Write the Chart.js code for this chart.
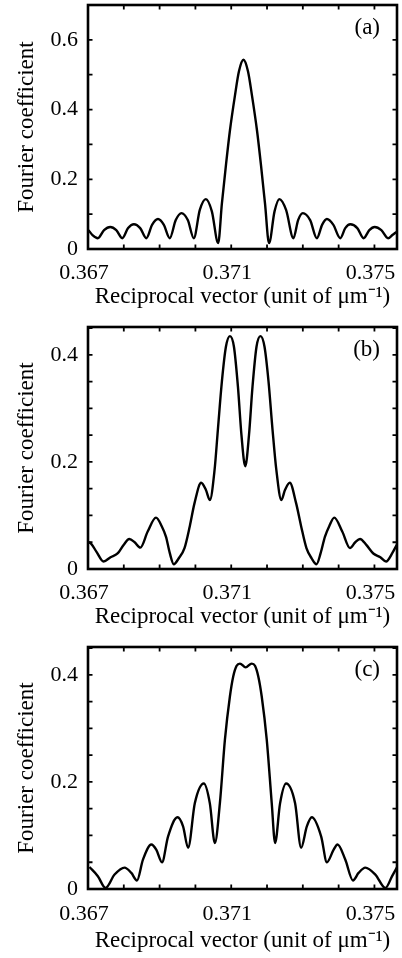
<!DOCTYPE html>
<html><head><meta charset="utf-8">
<script src="https://cdn.jsdelivr.net/npm/chart.js@4.4.1/dist/chart.umd.min.js"></script>
<style>html,body{margin:0;padding:0;background:#fff;}canvas{display:block;}</style>
</head><body>
<canvas id="ca" width="402" height="320"></canvas>
<canvas id="cb" width="402" height="320"></canvas>
<canvas id="cc" width="402" height="318"></canvas>
<script>
// ---------- data ----------
const xTickLabels = ['0.367', '0.371', '0.375'];
const yTickLabelsA = ['0', '0.2', '0.4', '0.6'];
const yTickLabelsBC = ['0', '0.2', '0.4'];
const panelLabels = ['(a)', '(b)', '(c)'];
const xTitle = 'Reciprocal vector (unit of \u03bcm\u207b\u00b9)';
const yTitle = 'Fourier coefficient';

const xA = [0.367014,0.367126,0.367275,0.367448,0.367622,0.367790,0.367958,0.368120,0.368283,0.368457,0.368630,0.368793,0.368955,0.369115,0.369283,0.369451,0.369611,0.369787,0.369955,0.370123,0.370291,0.370459,0.370636,0.370739,0.370852,0.370964,0.371104,0.371216,0.371342,0.371468,0.371580,0.371720,0.371832,0.371944,0.372056,0.372210,0.372345,0.372532,0.372737,0.372868,0.373000,0.373204,0.373392,0.373541,0.373672,0.373849,0.374045,0.374185,0.374325,0.374521,0.374697,0.374857,0.375006,0.375193,0.375381,0.375501,0.375613];
const yA = [0.054,0.040,0.031,0.054,0.063,0.054,0.031,0.060,0.071,0.060,0.031,0.070,0.086,0.070,0.031,0.083,0.103,0.083,0.031,0.112,0.143,0.108,0.017,0.13,0.24,0.34,0.44,0.51,0.543,0.51,0.44,0.34,0.24,0.13,0.017,0.108,0.143,0.112,0.031,0.083,0.103,0.083,0.031,0.070,0.086,0.070,0.031,0.060,0.071,0.060,0.031,0.054,0.063,0.054,0.031,0.040,0.049];

const xB = [0.367014,0.367078,0.367238,0.367434,0.367630,0.367826,0.367994,0.368154,0.368303,0.368462,0.368667,0.368899,0.369059,0.369179,0.369283,0.369395,0.369535,0.369695,0.369843,0.369975,0.370160,0.370291,0.370403,0.370535,0.370627,0.370739,0.370852,0.370964,0.371076,0.371188,0.371286,0.371392,0.371496,0.371594,0.371706,0.371818,0.371930,0.372042,0.372154,0.372260,0.372400,0.372504,0.372636,0.372812,0.372952,0.373101,0.373246,0.373381,0.373499,0.373616,0.373737,0.373877,0.374101,0.374316,0.374465,0.374597,0.374773,0.374969,0.375165,0.375325,0.375501,0.375622];
const yB = [0.050,0.048,0.032,0.014,0.022,0.029,0.045,0.056,0.050,0.040,0.070,0.096,0.080,0.060,0.030,0.009,0.020,0.039,0.080,0.123,0.161,0.148,0.129,0.185,0.26,0.35,0.415,0.435,0.415,0.34,0.25,0.192,0.25,0.34,0.415,0.435,0.415,0.35,0.26,0.185,0.129,0.148,0.161,0.123,0.080,0.039,0.020,0.009,0.030,0.060,0.080,0.096,0.070,0.039,0.050,0.056,0.045,0.029,0.022,0.014,0.030,0.045];

const xC = [0.367042,0.367275,0.367490,0.367742,0.368022,0.368210,0.368367,0.368535,0.368770,0.368910,0.369067,0.369235,0.369499,0.369655,0.369796,0.369983,0.370235,0.370403,0.370543,0.370683,0.370824,0.370964,0.371056,0.371151,0.371244,0.371403,0.371571,0.371664,0.371756,0.371851,0.371992,0.372132,0.372225,0.372364,0.372532,0.372784,0.372952,0.373112,0.373252,0.373513,0.373672,0.373857,0.373969,0.374185,0.374400,0.374557,0.374745,0.375025,0.375305,0.375493,0.375633];
const yC = [0.041,0.024,0.002,0.027,0.040,0.030,0.016,0.055,0.083,0.073,0.050,0.098,0.134,0.117,0.077,0.160,0.197,0.160,0.086,0.160,0.279,0.360,0.397,0.417,0.421,0.414,0.421,0.417,0.397,0.360,0.279,0.160,0.086,0.160,0.197,0.160,0.077,0.117,0.134,0.098,0.050,0.073,0.083,0.055,0.016,0.030,0.040,0.027,0.002,0.024,0.041];

const xMin = 0.367, xMax = 0.37563, xStep = 0.001;

// ---------- drawing ----------
const FONT = '"Liberation Serif", "Times New Roman", serif';
Chart.defaults.font.family = FONT;
Chart.defaults.color = '#000';

const framePlugin = {
  id: 'frame',
  afterDatasetsDraw(chart, args, opts) {
    const {ctx, chartArea: a} = chart;
    const sx = chart.scales.x, sy = chart.scales.y;
    ctx.save();
    ctx.strokeStyle = '#000';
    ctx.fillStyle = '#000';
    ctx.lineWidth = 1.8;
    const tl = 4.5;
    const nx = Math.floor((sx.max - sx.min) / opts.xStep + 1e-6);
    for (let k = 0; k <= nx; k++) {
      const v = sx.min + k * opts.xStep;
      const p = sx.getPixelForValue(v);
      ctx.beginPath();
      ctx.moveTo(p, a.bottom); ctx.lineTo(p, a.bottom - tl);
      ctx.moveTo(p, a.top); ctx.lineTo(p, a.top + tl);
      ctx.stroke();
    }
    const ny = Math.floor((sy.max - sy.min) / opts.yStep + 1e-6);
    for (let k = 0; k <= ny; k++) {
      const v = sy.min + k * opts.yStep;
      const p = sy.getPixelForValue(v);
      ctx.beginPath();
      ctx.moveTo(a.left, p); ctx.lineTo(a.left + tl, p);
      ctx.moveTo(a.right, p); ctx.lineTo(a.right - tl, p);
      ctx.stroke();
    }
    ctx.lineWidth = 2.6;
    ctx.strokeRect(a.left, a.top, a.right - a.left, a.bottom - a.top);
    ctx.font = '23px ' + FONT;
    ctx.textAlign = 'right';
    ctx.textBaseline = 'middle';
    ctx.fillText(opts.label, a.right - 17, a.top + 23);
    ctx.restore();
  }
};

function makeChart(id, xs, ys, yMax, yStep, yLabels, label, padTop, xAxisH, tickPad, titlePad) {
  const pts = xs.map((x, i) => ({x: x, y: ys[i]}));
  return new Chart(document.getElementById(id), {
    type: 'line',
    data: {datasets: [{data: pts, borderColor: '#000', borderWidth: 2.4, pointRadius: 0,
      cubicInterpolationMode: 'monotone', fill: false}]},
    options: {
      responsive: false, animation: false, devicePixelRatio: 1,
      layout: {padding: {top: padTop, right: 5, bottom: 0, left: 0}},
      plugins: {legend: {display: false}, tooltip: {enabled: false},
        frame: {label: label, xStep: xStep, yStep: yStep}},
      scales: {
        x: {type: 'linear', min: xMin, max: xMax,
          grid: {display: false, drawTicks: false}, border: {display: false},
          ticks: {stepSize: xStep, autoSkip: false, maxRotation: 0, includeBounds: false, padding: tickPad,
            labelOffset: -4, font: {size: 22}, color: '#000',
            callback: (v) => { const s = Number(v).toFixed(3); return xTickLabels.includes(s) ? s : ''; }},
          title: {display: true, text: xTitle, font: {size: 23}, color: '#000', padding: {top: 0, bottom: titlePad}},
          afterFit: (s) => { s.height = xAxisH; s.paddingLeft = 0; s.paddingRight = 0; s.paddingTop = 0; s.paddingBottom = 0; }
        },
        y: {type: 'linear', min: 0, max: yMax,
          grid: {display: false, drawTicks: false}, border: {display: false},
          ticks: {stepSize: yStep, autoSkip: false, includeBounds: false, padding: 10,
            font: {size: 22}, color: '#000',
            callback: (v) => { const s = String(Math.round(v * 100) / 100); return yLabels.includes(s) ? s : ''; }},
          title: {display: true, text: yTitle, font: {size: 23}, color: '#000', padding: {top: 13, bottom: 0}},
          afterFit: (s) => { s.width = 88; s.paddingLeft = 0; s.paddingRight = 0; s.paddingTop = 0; s.paddingBottom = 0; }
        }
      }
    },
    plugins: [framePlugin]
  });
}

makeChart('ca', xA, yA, 0.7, 0.1, yTickLabelsA, panelLabels[0], 5, 71, 11, 9);
makeChart('cb', xB, yB, 0.452, 0.05, yTickLabelsBC, panelLabels[1], 7, 71, 11, 9);
makeChart('cc', xC, yC, 0.452, 0.05, yTickLabelsBC, panelLabels[2], 7, 69, 12, 3);
</script>
</body></html>
